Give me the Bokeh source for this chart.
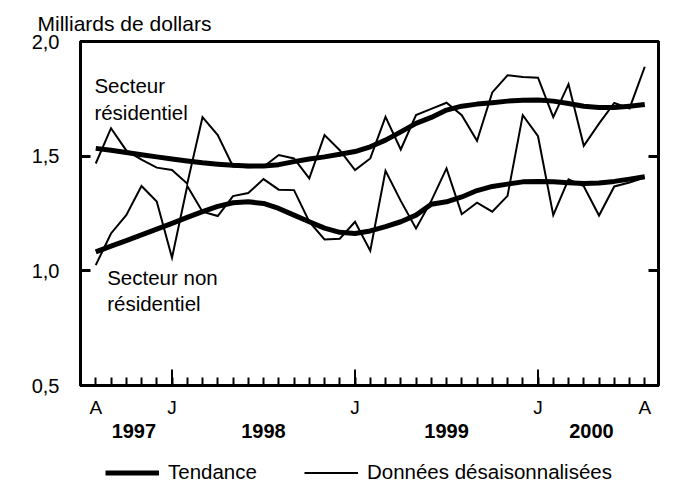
from bokeh.plotting import figure
from bokeh.models import LinearAxis, FixedTicker, Label, Legend, LegendItem, Range1d
from bokeh.layouts import column
from bokeh.embed import file_html
from bokeh.resources import INLINE

FONT = "Liberation Sans"

# Months: index 0 = août 1997 ... index 36 = août 2000
month_index = list(range(37))

res_raw = [1.468, 1.622, 1.525, 1.485, 1.450, 1.440, 1.380, 1.670, 1.592, 1.455,
           1.452, 1.454, 1.505, 1.490, 1.403, 1.592, 1.526, 1.439, 1.490, 1.671,
           1.529, 1.679, 1.706, 1.733, 1.679, 1.567, 1.778, 1.853, 1.845, 1.842,
           1.670, 1.814, 1.545, 1.642, 1.732, 1.708, 1.890]
res_trend = [1.534, 1.526, 1.516, 1.506, 1.497, 1.488, 1.479, 1.471, 1.465, 1.460,
             1.457, 1.457, 1.463, 1.476, 1.488, 1.497, 1.508, 1.520, 1.541, 1.570,
             1.606, 1.643, 1.669, 1.701, 1.718, 1.727, 1.733, 1.740, 1.744, 1.745,
             1.740, 1.730, 1.718, 1.712, 1.712, 1.718, 1.725]
nonres_raw = [1.025, 1.163, 1.243, 1.370, 1.302, 1.057, 1.370, 1.258, 1.239, 1.326,
              1.339, 1.400, 1.354, 1.352, 1.214, 1.137, 1.140, 1.214, 1.088, 1.436,
              1.305, 1.185, 1.305, 1.447, 1.247, 1.297, 1.258, 1.327, 1.679, 1.587,
              1.243, 1.399, 1.369, 1.241, 1.368, 1.385, 1.407]
nonres_trend = [1.083, 1.108, 1.132, 1.157, 1.182, 1.207, 1.233, 1.258, 1.281, 1.297,
                1.301, 1.294, 1.272, 1.243, 1.214, 1.186, 1.168, 1.163, 1.174, 1.193,
                1.214, 1.243, 1.290, 1.301, 1.322, 1.350, 1.368, 1.378, 1.388, 1.390,
                1.388, 1.384, 1.381, 1.383, 1.390, 1.400, 1.410]

x_tick_pos = [0, 5, 17, 29, 36]
x_tick_labels = ["A", "J", "J", "J", "A"]
year_pos = [2.5, 11, 23, 32.5]
year_labels = ["1997", "1998", "1999", "2000"]
y_ticks = [0.5, 1.0, 1.5, 2.0]
y_tick_labels = ["0,5", "1,0", "1,5", "2,0"]
title_text = "Milliards de dollars"
legend_labels = ["Tendance", "Données désaisonnalisées"]

X0, X1 = -1.0, 36.9
Y0, Y1 = 0.5, 2.0
FW, FH = 578, 344
W = 688
LEG_H = 40

# ---- main chart ----
p = figure(frame_width=FW, frame_height=FH,
           x_range=Range1d(X0, X1), y_range=Range1d(Y0, Y1),
           output_backend="svg", toolbar_location=None,
           min_border_left=80, min_border_right=W - 80 - FW,
           min_border_top=41, min_border_bottom=67)
p.grid.grid_line_color = None
p.outline_line_color = "black"
p.outline_line_width = 3

# title
p.title.text = title_text
p.title.text_font = FONT
p.title.text_font_size = "21px"
p.title.text_font_style = "normal"
p.title.text_color = "black"
p.title.align = "left"
p.title.vertical_align = "top"
p.title.offset = -43
p.title.standoff = 10

# bottom axis (months)
xa = p.xaxis[0]
xa.ticker = FixedTicker(ticks=x_tick_pos, minor_ticks=month_index)
xa.major_label_overrides = dict(zip(x_tick_pos, x_tick_labels))
xa.major_tick_in = 0
xa.major_tick_out = 0
xa.minor_tick_in = 8
xa.minor_tick_out = 0
xa.minor_tick_line_width = 2
xa.minor_tick_line_color = "black"
xa.axis_line_width = 3
xa.axis_line_color = "black"
xa.major_label_standoff = 11
xa.major_label_text_font = FONT
xa.major_label_text_font_size = "19px"
xa.major_label_text_color = "black"

# year labels
yr = LinearAxis(ticker=FixedTicker(ticks=year_pos, minor_ticks=[]),
                major_label_overrides=dict(zip(year_pos, year_labels)),
                axis_line_color=None, major_tick_line_color=None,
                minor_tick_line_color=None, major_label_standoff=-3,
                major_label_text_font=FONT, major_label_text_font_size="20px",
                major_label_text_font_style="bold", major_label_text_color="black")
p.add_layout(yr, "below")

# left axis
la = p.yaxis[0]
la.ticker = FixedTicker(ticks=y_ticks, minor_ticks=[])
la.major_label_overrides = dict(zip(y_ticks, y_tick_labels))
la.major_tick_in = 10
la.major_tick_out = 0
la.major_tick_line_width = 3
la.major_tick_line_color = "black"
la.axis_line_width = 3
la.axis_line_color = "black"
la.major_label_standoff = 21
la.major_label_text_font = FONT
la.major_label_text_font_size = "20px"
la.major_label_text_color = "black"

# right axis (ticks only)
ra = LinearAxis(ticker=FixedTicker(ticks=y_ticks, minor_ticks=[]),
                major_label_overrides={t: "" for t in y_ticks},
                major_tick_in=10, major_tick_out=0, major_tick_line_width=3,
                major_tick_line_color="black", axis_line_width=3,
                axis_line_color="black", major_label_standoff=0,
                major_label_text_font_size="1px")
p.add_layout(ra, "right")

# long ticks at January (J)
px_y = (Y1 - Y0) / FH
j_pos = [x for x, l in zip(x_tick_pos, x_tick_labels) if l == "J"]
p.segment(x0=j_pos, y0=[Y0] * len(j_pos), x1=j_pos, y1=[Y0 + 16 * px_y] * len(j_pos),
          line_width=2, line_color="black")

# series
p.line(month_index, res_raw, line_width=2, line_color="black", line_join="miter")
p.line(month_index, nonres_raw, line_width=2, line_color="black", line_join="miter")
p.line(month_index, res_trend, line_width=5, line_color="black", line_join="round")
p.line(month_index, nonres_trend, line_width=5, line_color="black", line_join="round")

# annotations
ann_text = ["Secteur", "résidentiel", "Secteur non", "résidentiel"]
ann_x = [-0.09, -0.09, 0.75, 0.75]
ann_y = [1.806, 1.691, 0.971, 0.859]
for t, x, y in zip(ann_text, ann_x, ann_y):
    p.add_layout(Label(x=x, y=y, text=t, text_font=FONT, text_font_size="20.5px",
                       text_color="black", text_baseline="alphabetic", text_align="left"))

# ---- legend strip (series drawn out of view; only their legend keys show) ----
lf = figure(frame_width=W, frame_height=LEG_H, x_range=Range1d(0, 1), y_range=Range1d(0, 1),
            output_backend="svg", toolbar_location=None, min_border=0,
            x_axis_location=None, y_axis_location=None)
lf.grid.grid_line_color = None
lf.outline_line_color = None
g_trend = lf.line(month_index, res_trend, line_width=5, line_color="black")
g_raw = lf.line(month_index, res_raw, line_width=2, line_color="black")
legend = Legend(items=[LegendItem(label=legend_labels[0], renderers=[g_trend]),
                       LegendItem(label=legend_labels[1], renderers=[g_raw])],
                orientation="horizontal", location=(105, 8),
                glyph_width=54, glyph_height=23, label_standoff=9, spacing=47,
                padding=0, margin=0, border_line_color=None,
                background_fill_alpha=0, label_text_font=FONT,
                label_text_font_size="20.5px", label_text_color="black")
lf.add_layout(legend)

layout = column(p, lf)
open("out.html", "w").write(file_html(layout, INLINE))
